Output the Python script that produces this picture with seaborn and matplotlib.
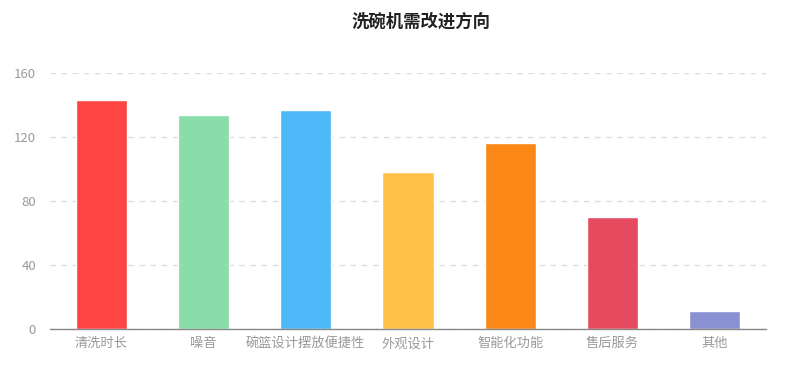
import matplotlib
matplotlib.use("Agg")
import matplotlib.pyplot as plt
import seaborn as sns
import pandas as pd

categories = ["清洗时长", "噪音", "碗篮设计摆放便捷性", "外观设计", "智能化功能", "售后服务", "其他"]
values = [143, 134, 137, 98, 116, 70, 11]
colors = ["#FF4444", "#88DDA8", "#4DB8F8", "#FFC247", "#FB8717", "#E64A5F", "#8A91D3"]
yticks = [0, 40, 80, 120, 160]
title = "洗碗机需改进方向"

sns.set_theme(style="white")
plt.rcParams['font.family'] = ['Noto Sans CJK SC', 'DejaVu Sans']

df = pd.DataFrame({"cat": categories, "val": values})

fig = plt.figure(figsize=(8, 3.73), dpi=100)
ax = fig.add_axes([0.0625, 0.118, 0.895, 0.686])
sns.barplot(data=df, x="cat", y="val", hue="cat", palette=colors, legend=False,
            width=0.5, ax=ax, saturation=1)
ax.set_ylim(0, 160)
ax.set_xlim(-0.5, len(categories) - 0.5)
ax.set_yticks(yticks)
ax.set_xlabel("")
ax.set_ylabel("")
ax.yaxis.grid(True, linestyle=(0, (4, 4)), color="#DDDDDD", linewidth=1)
ax.set_axisbelow(True)
for s in ["top", "right", "left"]:
    ax.spines[s].set_visible(False)
ax.spines["bottom"].set_color("#888888")
ax.spines["bottom"].set_linewidth(1)
ax.tick_params(axis="both", length=0, labelsize=9.5, colors="#999999", pad=6)
ax.tick_params(axis="y", pad=10)
fig.text(0.526, 0.941, title, ha="center", va="center", fontsize=12.5,
         fontweight="bold", color="#222222")
fig.savefig("out.png", dpi=100)
